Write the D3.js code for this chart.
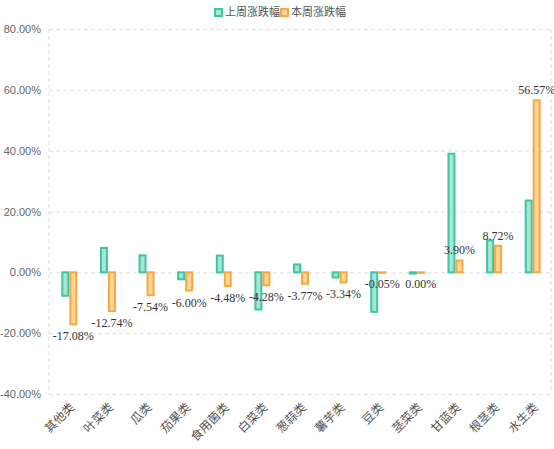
<!DOCTYPE html>
<html><head><meta charset="utf-8">
<script src="https://cdn.jsdelivr.net/npm/d3@7"></script>
<style>body{margin:0;background:#fff}</style>
</head><body>
<svg id="c" width="554" height="449"></svg>
<script>
const categories = ["其他类","叶菜类","瓜类","茄果类","食用菌类","白菜类","葱蒜类","薯芋类","豆类","茎菜类","甘蓝类","根茎类","水生类"];
const lastWeek = [-7.7, 8.0, 5.6, -2.3, 5.5, -12.2, 2.6, -1.7, -13.0, -0.4, 39.0, 10.5, 23.6];
const thisWeek = [-17.08, -12.74, -7.54, -6.00, -4.48, -4.28, -3.77, -3.34, -0.05, 0.00, 3.90, 8.72, 56.57];
const seriesNames = ["上周涨跌幅","本周涨跌幅"];
const yTicks = [-40, -20, 0, 20, 40, 60, 80];

(function(){
const svg = d3.select("#c");
const pL = 49, pR = 551, pT = 29, pB = 394;
const x = d3.scaleBand().domain(categories).range([pL, pR]);
const y = d3.scaleLinear().domain([-40, 80]).range([pB, pT]);
const colors = [{stroke:"#3ec5a3", fill:"#a6e6d4"}, {stroke:"#f8a840", fill:"#fdd599"}];
const bw = 8;

// grid
const yAxis = d3.axisLeft(y).tickValues(yTicks).tickSize(-(pR-pL)).tickFormat(d => d.toFixed(2) + "%");
const ga = svg.append("g").attr("transform", `translate(${pL},0)`).call(yAxis);
ga.select(".domain").remove();
ga.selectAll(".tick line").attr("stroke", "#dedede").attr("stroke-dasharray", "4,3");
ga.selectAll(".tick text").attr("x", -8).attr("fill", "#666").style("font-family", "'Liberation Sans', Arial, sans-serif").style("font-size", "11px");
[pL, pR].forEach(px => svg.append("line").attr("x1", px).attr("x2", px).attr("y1", pT).attr("y2", pB)
  .attr("stroke", "#dedede").attr("stroke-dasharray", "4,3"));

// bars
function bars(vals, idx, dx) {
  svg.append("g").selectAll("rect").data(vals).join("rect")
    .attr("x", (d, i) => x(categories[i]) + x.bandwidth()/2 + dx + 1)
    .attr("y", d => y(Math.max(0, d)))
    .attr("width", bw - 2)
    .attr("height", d => Math.max(Math.abs(y(d) - y(0)), 0.5))
    .attr("fill", colors[idx].fill).attr("stroke", colors[idx].stroke).attr("stroke-width", 2);
}
bars(lastWeek, 0, -bw + 1);
bars(thisWeek, 1, 1);

// labels for this week
svg.append("g").selectAll("text").data(thisWeek).join("text")
  .attr("x", (d, i) => x(categories[i]) + x.bandwidth()/2 + 1 + bw/2)
  .attr("y", d => d > 0 ? y(d) - 6 : y(d) + 16)
  .attr("text-anchor", "middle")
  .attr("fill", "#333")
  .style("font-family", "'Liberation Serif', 'Times New Roman', serif")
  .style("font-size", "12px")
  .text(d => d.toFixed(2) + "%");

// x labels
svg.append("g").selectAll("text").data(categories).join("text")
  .attr("transform", d => `translate(${x(d) + x.bandwidth()/2 + 4},${pB + 11}) rotate(-45)`)
  .attr("text-anchor", "end")
  .attr("dy", "0.35em")
  .attr("fill", "#555")
  .style("font-family", "'Noto Sans CJK SC', sans-serif")
  .style("font-size", "12px")
  .text(d => d);

// legend
const lg = svg.append("g");
const lx = [215, 281];
seriesNames.forEach((n, i) => {
  lg.append("rect").attr("x", lx[i]).attr("y", 9).attr("width", 7).attr("height", 7)
    .attr("fill", colors[i].fill).attr("stroke", colors[i].stroke).attr("stroke-width", 2);
  lg.append("text").attr("x", lx[i] + 10).attr("y", 12.5).attr("dy", "0.35em")
    .attr("fill", "#555").style("font-family", "'Noto Sans CJK SC', sans-serif").style("font-size", "11px").text(n);
});
})();
</script>
</body></html>
